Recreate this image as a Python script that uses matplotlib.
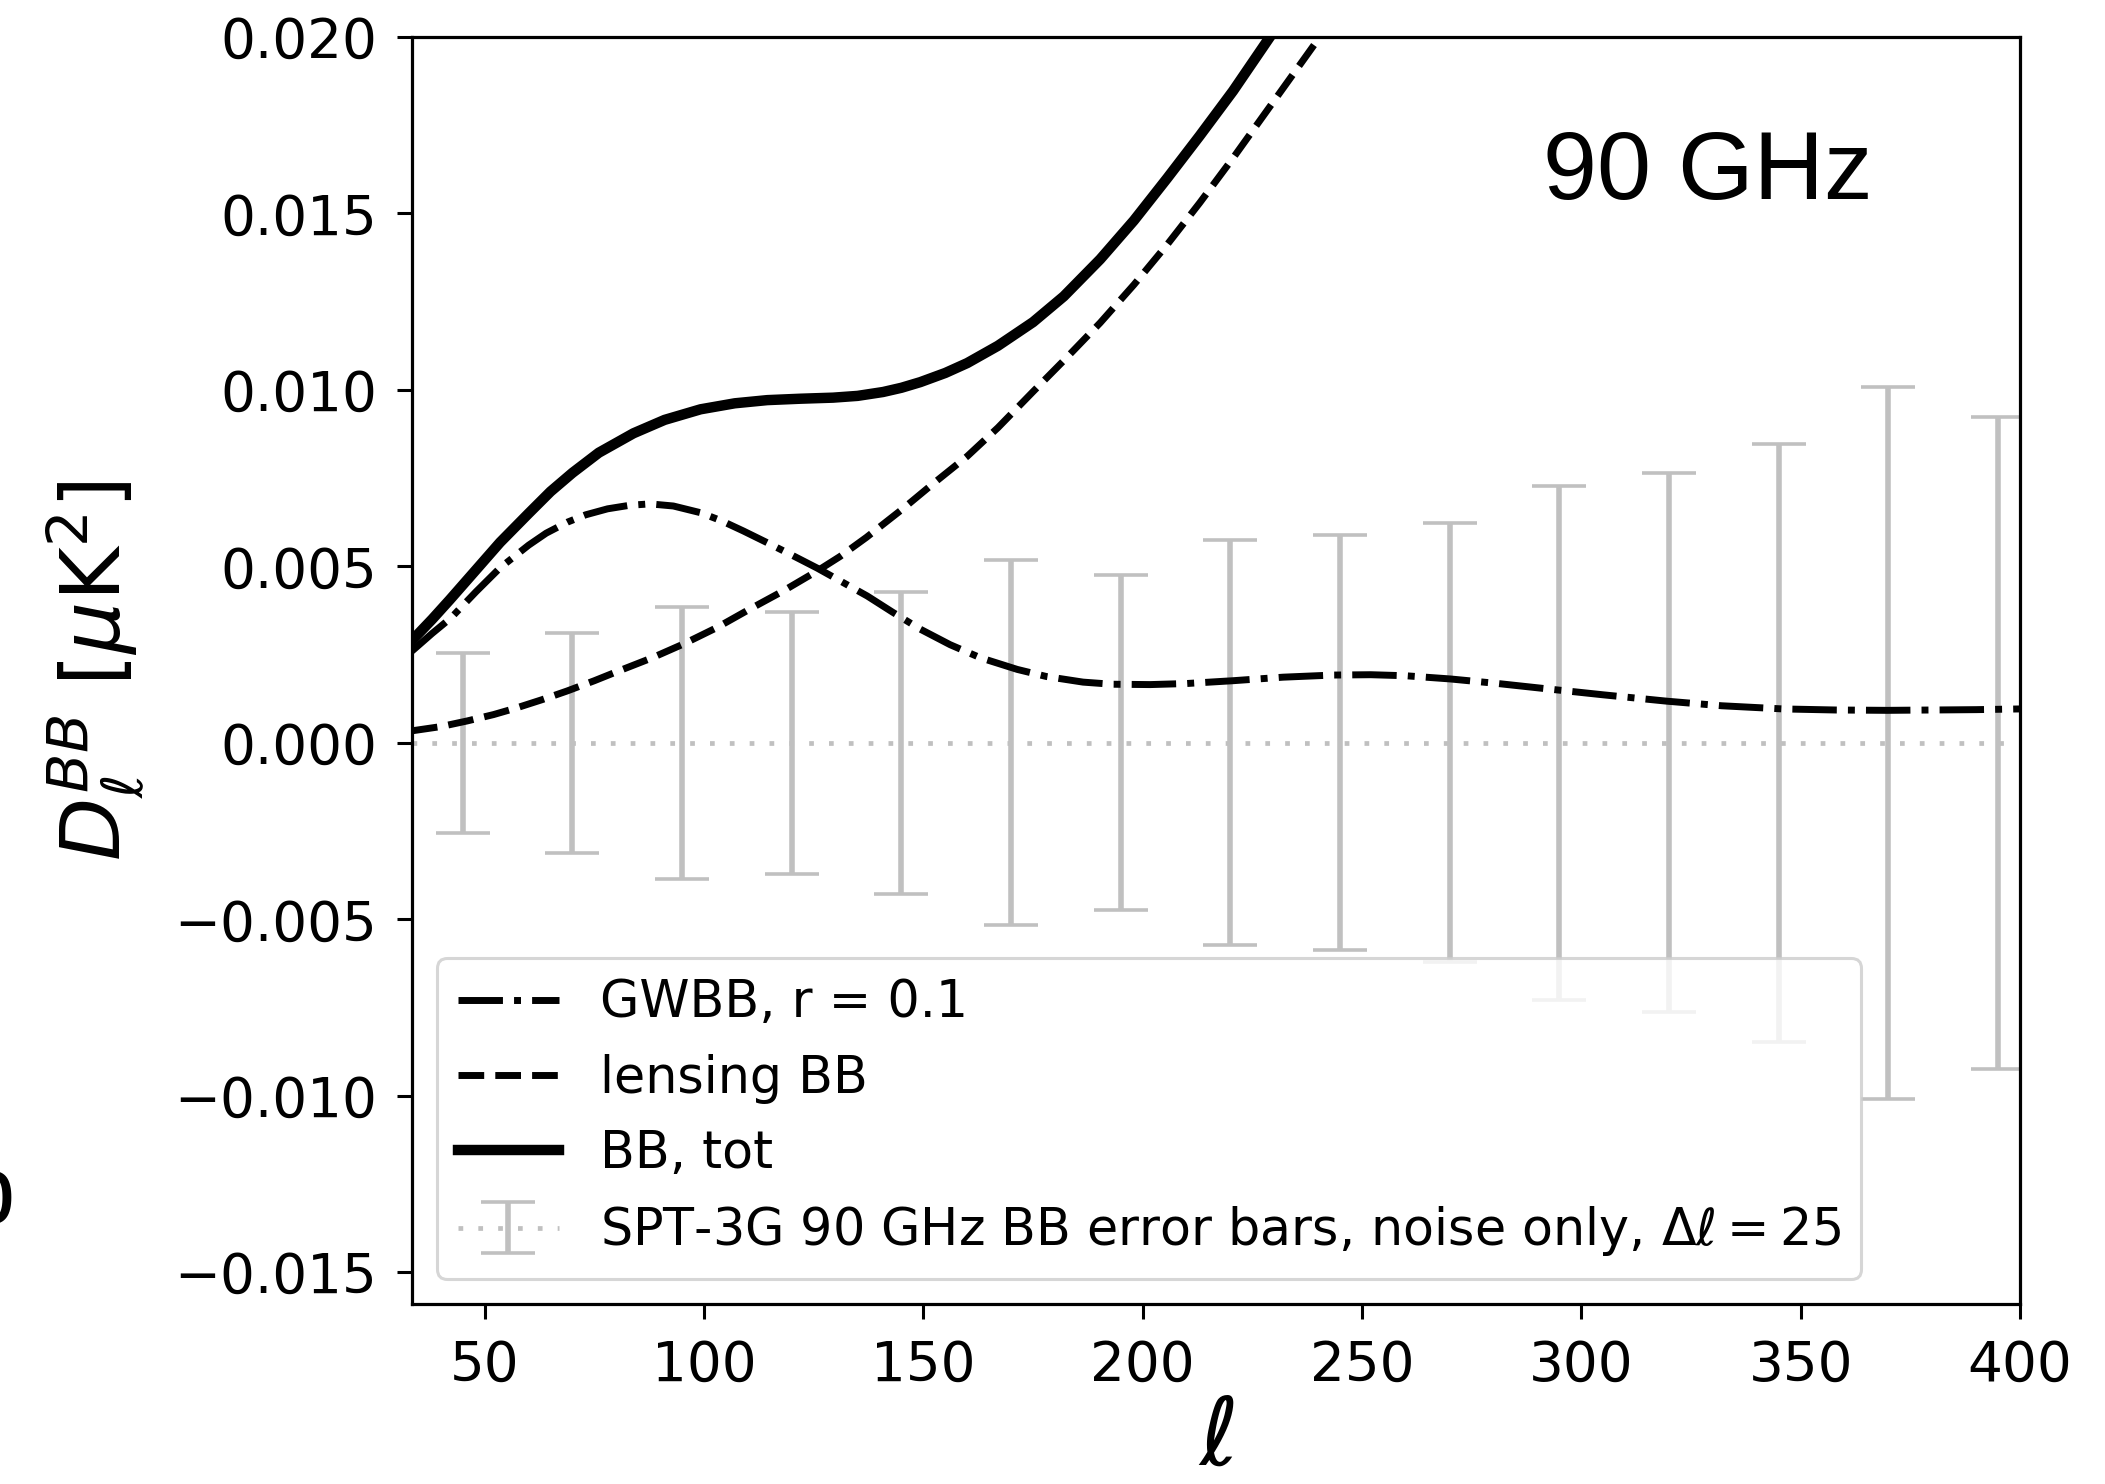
import matplotlib
matplotlib.use("Agg")
import matplotlib.pyplot as plt

# --- data ---
ell_tot = [33.4, 38, 42, 48, 53.5, 60, 65, 70, 76, 83.9, 91, 99.2, 107, 114.4, 122, 129.4, 135,
           140.8, 145, 149.3, 155, 160, 167, 175, 182, 190.3, 198, 205.6, 213, 220.6, 229, 235]
bb_tot = [0.0029, 0.00350, 0.00405, 0.00490, 0.00568, 0.00650, 0.00712, 0.00765, 0.00822,
          0.00877, 0.00915, 0.00945, 0.00962, 0.00971, 0.00975, 0.00978, 0.00983, 0.00994,
          0.01006, 0.01022, 0.01048, 0.01076, 0.01125, 0.01192, 0.01265, 0.01370, 0.01480,
          0.01600, 0.01720, 0.01847, 0.0200, 0.0211]

ell_lens = [33.4, 40, 46, 52, 57, 63, 68.8, 75, 80, 88, 95.3, 103, 110, 118, 125.8, 131, 137,
            145.4, 152, 160, 167, 175, 182, 190.3, 198, 205.6, 213, 220.6, 230, 239.8, 245]
bb_lens = [0.00034, 0.00046, 0.00062, 0.00080, 0.00098, 0.00122, 0.00147, 0.00176, 0.00201,
           0.00240, 0.00280, 0.00327, 0.00376, 0.00430, 0.00487, 0.00528, 0.00582, 0.00664,
           0.00732, 0.00812, 0.00893, 0.00995, 0.01083, 0.01190, 0.01298, 0.01412, 0.01530,
           0.01657, 0.01820, 0.0199, 0.0209]

ell_gw = [33.4, 38, 42.3, 48, 53.5, 60, 64, 68.8, 73, 78, 83, 87.7, 93, 99.2, 104, 109, 114.4,
          120, 125.8, 131, 137.2, 143, 149.3, 156.1, 163, 171.4, 178, 186.4, 193, 201.7, 210,
          220.6, 232, 243.4, 252, 260, 270.1, 281, 292.9, 305, 319.5, 332, 346, 358, 369.7,
          380, 390, 400]
bb_gw = [0.0026, 0.00310, 0.00354, 0.00428, 0.00496, 0.00560, 0.00594, 0.00625, 0.00646,
         0.00663, 0.00673, 0.00677, 0.00671, 0.00652, 0.00629, 0.00600, 0.00567, 0.00532,
         0.00495, 0.00459, 0.00416, 0.00370, 0.00322, 0.00278, 0.00241, 0.00208, 0.00188,
         0.00172, 0.00166, 0.00165, 0.00168, 0.00176, 0.00186, 0.00192, 0.00193, 0.00190,
         0.00181, 0.00168, 0.00152, 0.00136, 0.00118, 0.00105, 0.00096, 0.00093, 0.00092,
         0.00093, 0.00094, 0.00096]

ell_bins = [45, 70, 95, 120, 145, 170, 195, 220, 245, 270, 295, 320, 345, 370, 395]
err_bins = [0.00255, 0.00312, 0.00385, 0.00372, 0.00428, 0.00517, 0.00475, 0.00574, 0.00588,
            0.00622, 0.00729, 0.00764, 0.00848, 0.01009, 0.00924]
zero_bins = [0.0] * len(ell_bins)

xticks = [50, 100, 150, 200, 250, 300, 350, 400]
yticks = [-0.015, -0.010, -0.005, 0.000, 0.005, 0.010, 0.015, 0.020]

# --- figure ---
fig = plt.figure(figsize=(21.05, 14.84), dpi=100)
ax = fig.add_axes([0.1957, 0.1213, 0.9596 - 0.1957, 0.9751 - 0.1213])

xlim = (33.4, 400)
ylim = (-0.0159, 0.020)

eb = ax.errorbar(ell_bins, zero_bins, yerr=err_bins, fmt=':', color='silver',
                 elinewidth=4.0, capsize=19.5, capthick=2.6, lw=3.4,
                 label=r'SPT-3G 90 GHz BB error bars, noise only, $\Delta\ell = 25$', zorder=1)
eb[0].set_dashes([1, 3.2])
# extend the zero baseline across the full axis
eb[0].set_xdata(list(xlim))
eb[0].set_ydata([0.0, 0.0])

l1, = ax.plot(ell_gw, bb_gw, color='black', ls='-.', lw=5, label='GWBB, r = 0.1', zorder=3)
l2, = ax.plot(ell_lens, bb_lens, color='black', ls='--', lw=5, label='lensing BB', zorder=3)
l3, = ax.plot(ell_tot, bb_tot, color='black', ls='-', lw=7.5, label='BB, tot', zorder=3)

ax.set_xlim(*xlim)
ax.set_ylim(*ylim)
ax.set_xticks(xticks)
ax.set_yticks(yticks)

for s in ax.spines.values():
    s.set_linewidth(2.3)
ax.tick_params(axis='both', labelsize=39.5, length=11, width=2.2, pad=14)

ax.set_ylabel(r'$D_\ell^{BB}$ [$\mu$K$^2$]', fontsize=59, labelpad=20)
ax.set_xlabel(r'$\ell$', fontsize=68, labelpad=0)

leg = ax.legend(handles=[l1, l2, l3, eb], fontsize=36.5, loc='lower left',
                handlelength=2.0)
leg.get_frame().set_linewidth(2.2)

ax.text(0.806, 0.8915, '90 GHz', transform=ax.transAxes, fontsize=70,
        family='Liberation Sans', ha='center', va='center')

# partial panel label cut off at the left edge of the image
fig.text(15 / 2105, 1 - 1223 / 1484, 'b', fontsize=69, family='Liberation Sans',
         ha='right', va='baseline')

fig.savefig('out.png', dpi=100)
